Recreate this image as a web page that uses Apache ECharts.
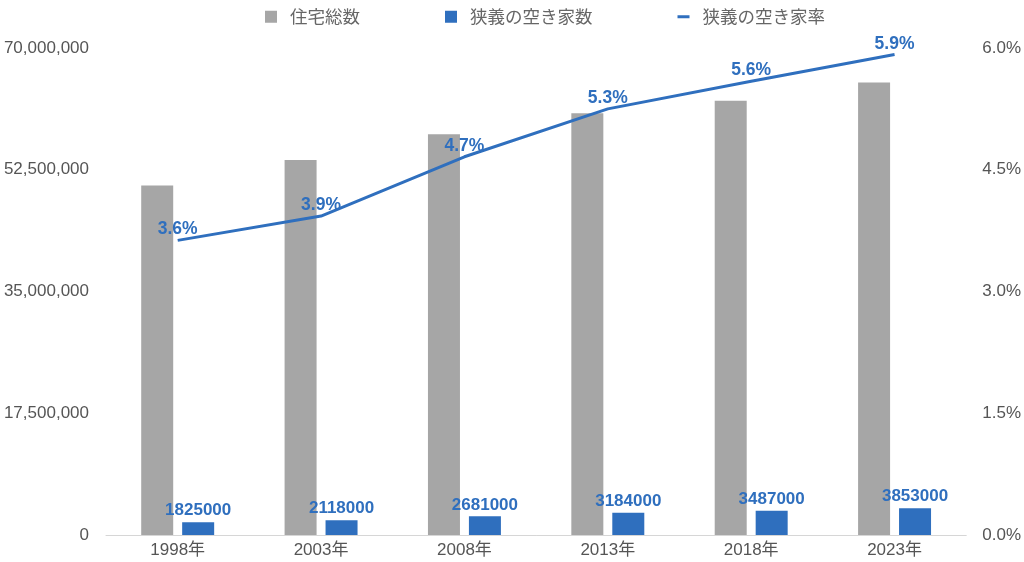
<!DOCTYPE html>
<html>
<head>
<meta charset="utf-8">
<script src="https://cdn.jsdelivr.net/npm/echarts@6/dist/echarts.min.js"></script>
<style>
  html, body { margin: 0; padding: 0; background: #fff; }
  #mainChart { width: 1024px; height: 562px; }
</style>
</head>
<body>
<div id="mainChart"></div>
<script>
// データ
var years = ['1998年', '2003年', '2008年', '2013年', '2018年', '2023年'];
var totalHouses = [50246000, 53891000, 57586000, 60629000, 62407000, 65047000];
var vacantHouses = [1825000, 2118000, 2681000, 3184000, 3487000, 3853000];
var vacantRate = [3.63, 3.93, 4.66, 5.25, 5.59, 5.92];

var BLUE = '#2f6fbe';
var GRAY = '#a6a6a6';
var CJK = '"Noto Sans CJK JP", "Noto Sans", sans-serif';
var LATIN = '"Liberation Sans", Arial, "Noto Sans CJK JP", sans-serif';

var myChart = echarts.init(document.getElementById('mainChart'), null, { renderer: 'canvas' });

var option = {
    textStyle: { fontFamily: LATIN },
    legend: {
        top: 3,
        left: 260,
        itemGap: 85,
        itemWidth: 12,
        itemHeight: 12,
        textStyle: { fontSize: 17.5, color: '#666', fontFamily: CJK, padding: [0, 0, 0, 8] },
        data: [
            { name: '住宅総数', icon: 'rect' },
            { name: '狭義の空き家数', icon: 'rect' },
            { name: '狭義の空き家率', icon: 'path://M0,0 L12,0 L12,3 L0,3 Z', itemStyle: { color: BLUE } }
        ]
    },
    grid: { left: 106, right: 57, top: 48, bottom: 27 },
    xAxis: {
        type: 'category',
        data: years,
        axisLine: { lineStyle: { color: '#d6d6d6' } },
        axisTick: { show: false },
        axisLabel: { color: '#555', fontSize: 17, margin: 7, fontFamily: LATIN }
    },
    yAxis: [
        {
            type: 'value',
            min: 0,
            max: 70000000,
            interval: 17500000,
            splitLine: { show: false },
            axisLine: { show: false },
            axisLabel: {
                color: '#555',
                fontSize: 17,
                margin: 17,
                formatter: function (v) { return v.toLocaleString('en-US'); }
            }
        },
        {
            type: 'value',
            min: 0,
            max: 6,
            interval: 1.5,
            splitLine: { show: false },
            axisLine: { show: false },
            axisLabel: {
                color: '#555',
                fontSize: 17,
                margin: 16,
                formatter: function (v) { return v.toFixed(1) + '%'; }
            }
        }
    ],
    series: [
        {
            name: '住宅総数',
            type: 'bar',
            data: totalHouses,
            barWidth: 32,
            barGap: '28%',
            itemStyle: { color: GRAY }
        },
        {
            name: '狭義の空き家数',
            type: 'bar',
            data: vacantHouses,
            barWidth: 32,
            itemStyle: { color: BLUE },
            label: {
                show: true,
                position: 'top',
                distance: 3,
                color: BLUE,
                fontSize: 17,
                fontWeight: 'bold',
                fontFamily: LATIN
            }
        },
        {
            name: '狭義の空き家率',
            type: 'line',
            yAxisIndex: 1,
            data: vacantRate,
            showSymbol: true,
            symbol: 'circle',
            symbolSize: 0,
            lineStyle: { color: BLUE, width: 3 },
            itemStyle: { color: BLUE },
            label: {
                show: true,
                position: 'top',
                distance: 2,
                color: BLUE,
                fontSize: 17.5,
                fontWeight: 'bold',
                fontFamily: LATIN,
                formatter: function (p) { return p.value.toFixed(1) + '%'; }
            },
            z: 5
        }
    ]
};

myChart.setOption(option);
</script>
</body>
</html>
